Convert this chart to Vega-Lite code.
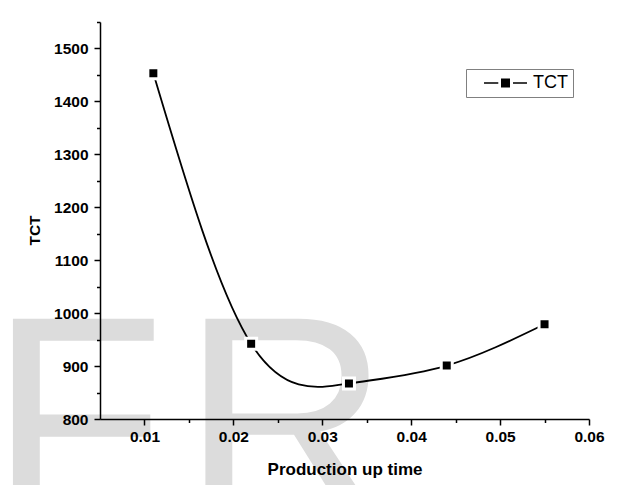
{
  "$schema": "https://vega.github.io/schema/vega-lite/v6.json",
  "width": 489,
  "height": 397,
  "autosize": {"type": "none"},
  "padding": {"left": 100, "top": 22, "right": 31, "bottom": 66},
  "background": "white",
  "config": {"view": {"stroke": null}, "font": "Liberation Sans"},
  "resolve": {"axis": {"x": "independent", "y": "independent"}},
  "layer": [
    {
      "data": {"values": [{"ch": "F", "x": -0.00745, "y": 615}, {"ch": "R", "x": 0.01420, "y": 615}]},
      "mark": {"type": "text", "fontSize": 288, "font": "Liberation Sans", "color": "#dcdcdc", "align": "left", "baseline": "alphabetic", "clip": false},
      "encoding": {
        "x": {
          "field": "x", "type": "quantitative",
          "scale": {"domain": [0.005, 0.06], "nice": false, "zero": false},
          "axis": {
            "orient": "bottom",
            "values": [0.01, 0.02, 0.03, 0.04, 0.05, 0.06],
            "tickSize": 6,
            "format": ".2f",
            "labelFont": "Liberation Sans", "labelFontWeight": "bold", "labelFontSize": 15.5, "labelColor": "black",
            "labelPadding": 4, "labelOverlap": false, "labelFlush": false,
            "domainColor": "black", "domainWidth": 1.5, "tickColor": "black", "tickWidth": 1.5, "grid": false,
            "title": "Production up time", "titleFont": "Liberation Sans", "titleFontSize": 17, "titleFontWeight": "bold", "titleColor": "black",
            "titleX": 244.5, "titleY": 55, "titleBaseline": "alphabetic", "titleAlign": "center",
            "zindex": 1
          }
        },
        "y": {
          "field": "y", "type": "quantitative",
          "scale": {"domain": [800, 1550], "nice": false, "zero": false},
          "axis": {
            "orient": "left",
            "values": [800, 900, 1000, 1100, 1200, 1300, 1400, 1500],
            "tickSize": 6,
            "format": "d",
            "labelFont": "Liberation Sans", "labelFontWeight": "bold", "labelFontSize": 15.5, "labelColor": "black",
            "labelPadding": 6, "labelOverlap": false, "labelFlush": false,
            "domainColor": "black", "domainWidth": 1.5, "tickColor": "black", "tickWidth": 1.5, "grid": false,
            "title": "TCT", "titleFont": "Liberation Sans", "titleFontSize": 15.5, "titleFontWeight": "bold", "titleColor": "black",
            "titleX": -61, "titleY": 208, "titleAngle": 270, "titleBaseline": "alphabetic", "titleAlign": "center",
            "zindex": 1
          }
        },
        "text": {"field": "ch"}
      }
    },
    {
      "data": {"values": [
        {"x": 0.011, "y": 1453, "s": "TCT"},
        {"x": 0.022, "y": 942, "s": "TCT"},
        {"x": 0.033, "y": 867, "s": "TCT"},
        {"x": 0.044, "y": 901, "s": "TCT"},
        {"x": 0.055, "y": 979, "s": "TCT"}
      ]},
      "mark": {"type": "line", "interpolate": "natural", "strokeWidth": 1.8},
      "encoding": {
        "x": {"field": "x", "type": "quantitative", "axis": null},
        "y": {"field": "y", "type": "quantitative", "axis": null},
        "color": {
          "field": "s", "type": "nominal",
          "scale": {"range": ["black"]},
          "legend": {
            "orient": "none", "legendX": 366, "legendY": 47,
            "title": null, "padding": 5, "clipHeight": 18,
            "strokeColor": "#808080", "fillColor": "white",
            "symbolType": "M-0.571,0H-0.061M0.464,0H0.964M0.0625,-0.134H0.33V0.134H0.0625Z",
            "symbolSize": 3136, "symbolStrokeWidth": 1.5,
            "symbolFillColor": "black", "symbolStrokeColor": "black",
            "labelFont": "Liberation Sans", "labelFontSize": 18, "labelColor": "black", "labelOffset": 4,
            "encode": {"symbols": {"update": {"fill": {"value": "black"}, "stroke": {"value": "black"}, "strokeWidth": {"value": 1.5}, "opacity": {"value": 1}}}}
          }
        }
      }
    },
    {
      "data": {"values": [
        {"x": 0.011, "y": 1453},
        {"x": 0.022, "y": 942},
        {"x": 0.033, "y": 867},
        {"x": 0.044, "y": 901},
        {"x": 0.055, "y": 979}
      ]},
      "mark": {"type": "point", "shape": "square", "filled": true, "size": 121, "fill": "black", "stroke": "white", "strokeWidth": 3, "opacity": 1},
      "encoding": {
        "x": {"field": "x", "type": "quantitative", "axis": {
          "orient": "bottom",
          "values": [0.015, 0.025, 0.035, 0.045, 0.055],
          "tickSize": 3.5, "labels": false, "domain": false, "title": null, "grid": false,
          "tickColor": "black", "tickWidth": 1.5, "zindex": 1
        }},
        "y": {"field": "y", "type": "quantitative", "axis": {
          "orient": "left",
          "values": [850, 950, 1050, 1150, 1250, 1350, 1450, 1550],
          "tickSize": 3.5, "labels": false, "domain": false, "title": null, "grid": false,
          "tickColor": "black", "tickWidth": 1.5, "zindex": 1
        }}
      }
    }
  ]
}
